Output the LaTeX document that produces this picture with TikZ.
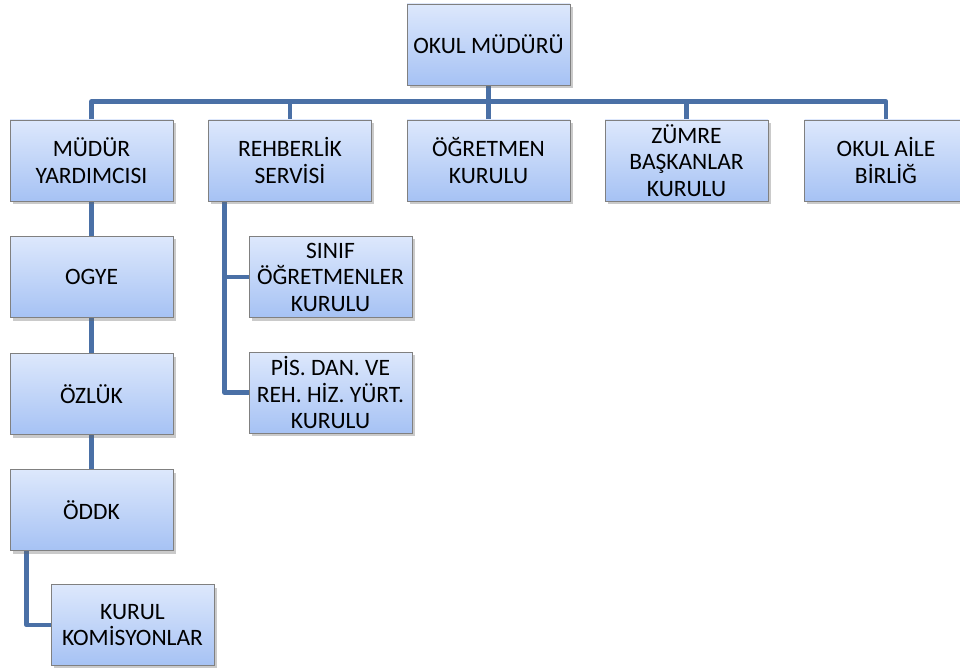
\documentclass[tikz,border=0pt]{standalone}
\usepackage{fontspec}
\setmainfont{Carlito}
\usetikzlibrary{shadows,backgrounds}
\definecolor{boxtop}{HTML}{DDE8FC}
\definecolor{boxbot}{HTML}{A6C2F4}
\definecolor{boxline}{HTML}{808080}
\definecolor{connc}{HTML}{4A70A6}
\tikzset{
  orgbox/.style={draw=boxline, line width=0.8pt, top color=boxtop, bottom color=boxbot,
    drop shadow={shadow xshift=2.5pt, shadow yshift=-3pt, opacity=0.35, fill=black!60},
    minimum width=163pt, minimum height=81pt, inner sep=0pt, align=center,
    font=\fontsize{23.5}{26.5}\selectfont},
  conn/.style={draw=connc, line width=4.5pt, line join=round}
}
\begin{document}
\begin{tikzpicture}[x=1pt,y=-1pt]
\useasboundingbox (0,0) rectangle (960,668);
\clip (0,0) rectangle (960,668);
\node[orgbox] (OM) at (488.5,44.5) {OKUL MÜDÜRÜ};
\node[orgbox] (MY) at (91.5,160.5) {MÜDÜR\\YARDIMCISI};
\node[orgbox] (RS) at (290,160.5) {REHBERLİK\\SERVİSİ};
\node[orgbox] (OK) at (488.5,160.5) {ÖĞRETMEN\\KURULU};
\node[orgbox] (ZB) at (686.5,160.5) {ZÜMRE\\BAŞKANLAR\\KURULU};
\node[orgbox] (OA) at (886,160.5) {OKUL AİLE\\BİRLİĞ};
\node[orgbox] (OG) at (91.5,277) {OGYE};
\node[orgbox] (OZ) at (91.5,394) {ÖZLÜK};
\node[orgbox] (OD) at (91.5,510) {ÖDDK};
\node[orgbox] (KK) at (132.5,625) {KURUL\\KOMİSYONLAR};
\node[orgbox] (SO) at (330.5,277) {SINIF\\ÖĞRETMENLER\\KURULU};
\node[orgbox] (PD) at (330.5,392.5) {PİS. DAN. VE\\REH. HİZ. YÜRT.\\KURULU};
\coordinate (bus) at (0,101.5);
\begin{scope}[on background layer]
\draw[conn] (MY.north) -- (MY.north |- bus) -- (OA.north |- bus) -- (OA.north);
\draw[conn] (OM.south) -- (OM.south |- bus);
\draw[conn] (RS.north) -- (RS.north |- bus);
\draw[conn] (OK.north) -- (OK.north |- bus);
\draw[conn] (ZB.north) -- (ZB.north |- bus);
\draw[conn] (MY.south) -- (OG.north);
\draw[conn] (OG.south) -- (OZ.north);
\draw[conn] (OZ.south) -- (OD.north);
\draw[conn] ([xshift=17pt]OD.south west) |- (KK.west);
\draw[conn] ([xshift=16.5pt]RS.south west) |- (SO.west);
\draw[conn] ([xshift=16.5pt]RS.south west) |- (PD.west);
\end{scope}
\end{tikzpicture}
\end{document}
